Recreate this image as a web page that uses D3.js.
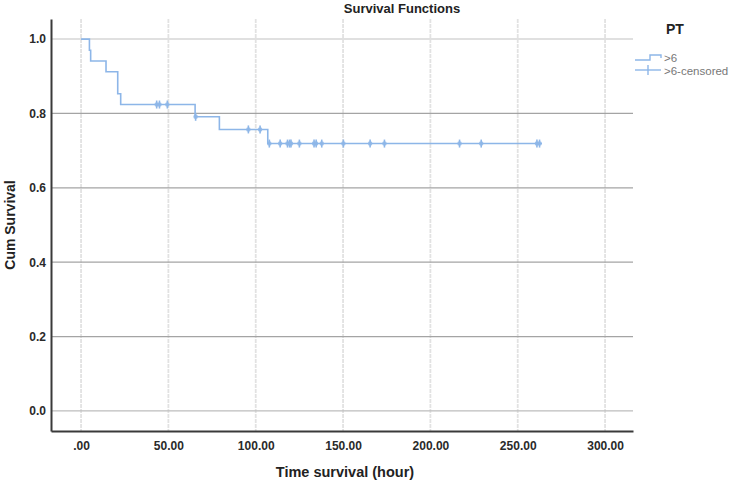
<!DOCTYPE html>
<html><head><meta charset="utf-8">
<script src="https://cdn.jsdelivr.net/npm/d3@7"></script>
<style>body{margin:0;background:#fff}svg{display:block}text{font-family:"Liberation Sans",Arial,sans-serif}</style>
</head><body>
<script>
// Kaplan-Meier step data (time, survival after event)
const eventTimes = [0, 4.8, 5.5, 14.3, 21.0, 22.7, 65.3, 79.2, 106.9];
const survival   = [1.0, 0.970, 0.941, 0.912, 0.853, 0.824, 0.791, 0.757, 0.719];
const endTime = 263.9;
// censored observations (time) – survival taken from the step curve
const censoredTimes = [43.3, 44.9, 49.4, 65.6, 95.8, 102.5, 107.8, 114.0, 118.2, 119.4, 120.2, 125.0,
  133.4, 134.6, 137.8, 150.2, 165.5, 173.7, 216.7, 229.1, 261.0, 262.5];
const xTicks = [0, 50, 100, 150, 200, 250, 300];
const xTickLabels = [".00", "50.00", "100.00", "150.00", "200.00", "250.00", "300.00"];
const yTicks = [0, 0.2, 0.4, 0.6, 0.8, 1.0];
const seriesName = ">6";
const legendTitle = "PT";

const W = 742, H = 484;
const svg = d3.select("body").append("svg").attr("width", W).attr("height", H);
const x = d3.scaleLinear().domain([-17.2, 316]).range([51, 633]);
const y = d3.scaleLinear().domain([-0.054, 1.054]).range([431, 19]);
const lineColor = "#8db6e8";

// gridlines
svg.append("g").selectAll("line").data(xTicks).join("line")
  .attr("x1", d => x(d)).attr("x2", d => x(d)).attr("y1", y(1.054)).attr("y2", y(-0.054))
  .attr("stroke", "#e2e2e2").attr("stroke-width", 1.8).attr("stroke-dasharray", "4,1");
svg.append("g").selectAll("line").data(yTicks).join("line")
  .attr("x1", x(-17.2)).attr("x2", x(316)).attr("y1", d => y(d)).attr("y2", d => y(d))
  .attr("stroke", d => (d === 1 ? "#e0e0e0" : (d === 0 ? "#bdbdbd" : "#a4a4a4")))
  .attr("stroke-width", d => (d === 1 ? 2 : 1.3));

// axes
const xAxis = d3.axisBottom(x).tickValues(xTicks).tickFormat((d, i) => xTickLabels[i]).tickSize(0).tickPadding(10);
const gx = svg.append("g").attr("transform", `translate(0,${y(-0.054)})`).call(xAxis);
gx.select(".domain").attr("stroke", "#3a3a3a").attr("stroke-width", 2);
gx.selectAll("text").attr("font-size", 12).attr("font-weight", "bold").attr("fill", "#2a2a2a");

const yAxis = d3.axisLeft(y).tickValues(yTicks).tickFormat(d3.format(".1f")).tickSize(0).tickPadding(5);
const gy = svg.append("g").attr("transform", `translate(${x(-17.2)},0)`).call(yAxis);
gy.select(".domain").attr("stroke", "#3a3a3a").attr("stroke-width", 2);
gy.selectAll("text").attr("font-size", 12).attr("font-weight", "bold").attr("fill", "#2a2a2a");

// step curve
const pts = eventTimes.map((t, i) => [t, survival[i]]);
pts.push([endTime, survival[survival.length - 1]]);
const line = d3.line().x(d => x(d[0])).y(d => y(d[1])).curve(d3.curveStepAfter);
svg.append("path").datum(pts).attr("d", line).attr("fill", "none")
  .attr("stroke", lineColor).attr("stroke-width", 1.6);

function survAt(t) {
  let s = 1;
  for (let i = 0; i < eventTimes.length; i++) if (eventTimes[i] <= t) s = survival[i];
  return s;
}
const cg = svg.append("g").selectAll("g").data(censoredTimes).join("g")
  .attr("transform", d => `translate(${x(d)},${y(survAt(d))})`);
cg.append("line").attr("y1", -4).attr("y2", 4).attr("stroke", lineColor).attr("stroke-width", 1.6);
cg.append("circle").attr("r", 2.3).attr("fill", lineColor).attr("opacity", 0.85);

// titles
svg.append("text").attr("x", 402).attr("y", 13).attr("text-anchor", "middle")
  .attr("font-size", 13).attr("font-weight", "bold").attr("fill", "#222").text("Survival Functions");
svg.append("text").attr("x", 345).attr("y", 477).attr("text-anchor", "middle")
  .attr("font-size", 14.5).attr("font-weight", "bold").attr("fill", "#222").text("Time survival (hour)");
svg.append("text").attr("transform", "translate(15,225) rotate(-90)").attr("text-anchor", "middle")
  .attr("font-size", 14).attr("font-weight", "bold").attr("fill", "#222").text("Cum Survival");

// legend
svg.append("text").attr("x", 666).attr("y", 34).attr("font-size", 14).attr("font-weight", "bold")
  .attr("fill", "#222").text(legendTitle);
svg.append("path").attr("d", "M635,60 H650 V55 H661 V58").attr("fill", "none")
  .attr("stroke", lineColor).attr("stroke-width", 1.4);
svg.append("text").attr("x", 664).attr("y", 62).attr("font-size", 11.5).attr("fill", "#777").text(seriesName);
svg.append("line").attr("x1", 635).attr("x2", 661).attr("y1", 70).attr("y2", 70)
  .attr("stroke", lineColor).attr("stroke-width", 1.4);
svg.append("line").attr("x1", 648).attr("x2", 648).attr("y1", 65).attr("y2", 75)
  .attr("stroke", lineColor).attr("stroke-width", 1.4);
svg.append("text").attr("x", 664).attr("y", 75).attr("font-size", 11.5).attr("fill", "#777").text(seriesName + "-censored");
</script>
</body></html>
